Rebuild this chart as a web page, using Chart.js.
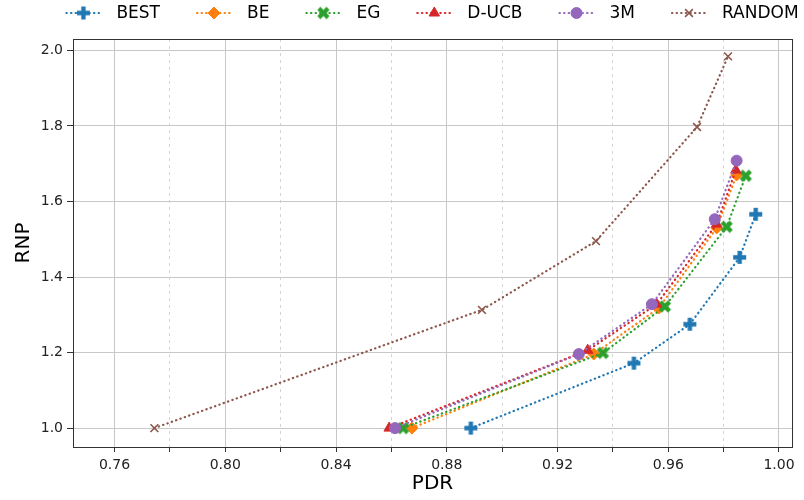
<!DOCTYPE html>
<html>
<head>
<meta charset="utf-8">
<script src="https://cdn.jsdelivr.net/npm/chart.js@4.4.0/dist/chart.umd.min.js"></script>
<style>
  html, body { margin: 0; padding: 0; background: #fff; }
</style>
</head>
<body>
<canvas id="chart" width="804" height="500"></canvas>
<script>
// PDR (x) / RNP (y) per strategy
const bestPDR = [0.8887, 0.9476, 0.9678, 0.9858, 0.9916];
const bestRNP = [1.000, 1.172, 1.275, 1.452, 1.566];
const bePDR = [0.8674, 0.9331, 0.9566, 0.9775, 0.9847];
const beRNP = [1.000, 1.196, 1.318, 1.530, 1.670];
const egPDR = [0.8642, 0.9364, 0.9588, 0.9811, 0.9880];
const egRNP = [1.000, 1.199, 1.322, 1.533, 1.668];
const ducbPDR = [0.8592, 0.9309, 0.9558, 0.9775, 0.9844];
const ducbRNP = [1.000, 1.206, 1.328, 1.540, 1.683];
const m3PDR = [0.8613, 0.9277, 0.9541, 0.9768, 0.9847];
const m3RNP = [1.000, 1.196, 1.328, 1.553, 1.708];
const randomPDR = [0.7744, 0.8927, 0.9339, 0.9704, 0.9816];
const randomRNP = [1.000, 1.313, 1.495, 1.797, 1.984];

const xTicks = [0.76, 0.78, 0.80, 0.82, 0.84, 0.86, 0.88, 0.90, 0.92, 0.94, 0.96, 0.98, 1.00];
const xMajorTicks = [0.76, 0.80, 0.84, 0.88, 0.92, 0.96, 1.00];
const yTicks = [1.0, 1.2, 1.4, 1.6, 1.8, 2.0];

const FONT = '"DejaVu Sans", sans-serif';
const isMajor = v => xMajorTicks.some(m => Math.abs(m - v) < 1e-9);
const zip = (xs, ys) => xs.map((x, i) => ({ x, y: ys[i] }));

// filled plus / filled x markers, drawn once onto small canvases
function crossMarker(color, len, rotated) {
  const size = Math.ceil(len * 2 + 4);
  const c = document.createElement('canvas');
  c.width = c.height = size;
  const g = c.getContext('2d');
  const a = len / 3;
  const pts = [[-a, -len], [a, -len], [a, -a], [len, -a], [len, a], [a, a],
               [a, len], [-a, len], [-a, a], [-len, a], [-len, -a], [-a, -a]];
  g.translate(size / 2, size / 2);
  if (rotated) g.rotate(Math.PI / 4);
  g.beginPath();
  pts.forEach(([px, py], i) => i ? g.lineTo(px, py) : g.moveTo(px, py));
  g.closePath();
  g.fillStyle = color;
  g.fill();
  return c;
}

function series(label, xs, ys, color, pointStyle, radius, extra) {
  return Object.assign({
    label,
    data: zip(xs, ys),
    showLine: true,
    borderColor: color,
    borderWidth: 2.2,
    borderDash: [0.4, 4.2],
    borderCapStyle: 'round',
    pointStyle,
    pointRadius: radius,
    pointHoverRadius: radius,
    pointBackgroundColor: color,
    pointBorderColor: color,
    pointBorderWidth: 1
  }, extra || {});
}

const datasets = [
  series('BEST', bestPDR, bestRNP, '#1f77b4', crossMarker('#1f77b4', 6.5, false), 6),
  series('BE', bePDR, beRNP, '#ff7f0e', 'rectRot', 6),
  series('EG', egPDR, egRNP, '#2ca02c', crossMarker('#2ca02c', 6.5, true), 6),
  series('D-UCB', ducbPDR, ducbRNP, '#d62728', 'triangle', 6),
  series('3M', m3PDR, m3RNP, '#9467bd', 'circle', 5.5),
  series('RANDOM', randomPDR, randomRNP, '#8c564b', 'crossRot', 5.5, { pointBorderWidth: 1.6 })
];
// later series sit on top
datasets.forEach((d, i) => { d.order = datasets.length - i; });

// legend row above the axes: dotted handle + marker + label
const lineLegend = {
  id: 'lineLegend',
  afterDraw(chart) {
    const ctx = chart.ctx;
    const HANDLE = 34, TEXT_PAD = 16, COL_GAP = 37, y = 13;
    ctx.save();
    ctx.font = '17px ' + FONT;
    const sets = chart.data.datasets;
    const widths = sets.map(ds => ctx.measureText(ds.label).width);
    const total = widths.reduce((s, w) => s + HANDLE + TEXT_PAD + w, 0) + COL_GAP * (sets.length - 1);
    const area = chart.chartArea;
    let x = (area.left + area.right) / 2 - total / 2;
    sets.forEach((ds, i) => {
      ctx.strokeStyle = ds.borderColor;
      ctx.lineWidth = ds.borderWidth;
      ctx.lineCap = ds.borderCapStyle;
      ctx.setLineDash(ds.borderDash);
      ctx.beginPath();
      ctx.moveTo(x, y);
      ctx.lineTo(x + HANDLE, y);
      ctx.stroke();
      ctx.setLineDash([]);
      ctx.lineCap = 'butt';
      ctx.fillStyle = ds.pointBackgroundColor;
      ctx.strokeStyle = ds.pointBorderColor;
      ctx.lineWidth = ds.pointBorderWidth;
      Chart.helpers.drawPoint(ctx, {
        pointStyle: ds.pointStyle, radius: ds.pointRadius,
        borderWidth: ds.pointBorderWidth, rotation: 0
      }, x + HANDLE / 2, y);
      ctx.fillStyle = '#000';
      ctx.textBaseline = 'middle';
      ctx.textAlign = 'left';
      ctx.fillText(ds.label, x + HANDLE + TEXT_PAD, y + 1);
      x += HANDLE + TEXT_PAD + widths[i] + COL_GAP;
    });
    ctx.restore();
  }
};

// box around the plotting area
const frame = {
  id: 'frame',
  afterDraw(chart) {
    const { left, top, right, bottom } = chart.chartArea;
    const ctx = chart.ctx;
    ctx.save();
    ctx.strokeStyle = '#333';
    ctx.lineWidth = 1;
    ctx.strokeRect(Math.round(left) + 0.5, Math.round(top) + 0.5,
                   Math.round(right - left), Math.round(bottom - top));
    ctx.restore();
  }
};

new Chart(document.getElementById('chart'), {
  type: 'scatter',
  data: { datasets },
  options: {
    responsive: false,
    animation: false,
    layout: { padding: { top: 39, right: 12, left: 0, bottom: 0 } },
    plugins: { legend: { display: false }, tooltip: { enabled: false } },
    scales: {
      x: {
        type: 'linear',
        min: 0.745,
        max: 1.0047,
        afterBuildTicks: axis => { axis.ticks = xTicks.map(v => ({ value: v })); },
        afterFit: scale => { scale.height = 53; },
        ticks: {
          autoSkip: false,
          maxRotation: 0,
          padding: 5,
          color: '#222',
          font: { family: FONT, size: 14 },
          callback: v => isMajor(v) ? v.toFixed(2) : ''
        },
        grid: {
          color: ctx => ctx.tick && !isMajor(ctx.tick.value) ? '#d4d4d4' : '#c8c8c8',
          lineWidth: 1,
          tickLength: 5,
          tickColor: '#333'
        },
        border: {
          color: '#333',
          dash: ctx => ctx.tick && !isMajor(ctx.tick.value) ? [3, 4] : []
        },
        title: {
          display: true,
          text: 'PDR',
          color: '#000',
          font: { family: FONT, size: 20 },
          padding: { top: 0, bottom: 4 }
        }
      },
      y: {
        type: 'linear',
        min: 0.95,
        max: 2.03,
        afterBuildTicks: axis => { axis.ticks = yTicks.map(v => ({ value: v })); },
        afterFit: scale => { scale.width = 73; },
        ticks: {
          padding: 4,
          color: '#222',
          font: { family: FONT, size: 14 },
          callback: v => v.toFixed(1)
        },
        grid: { color: '#c8c8c8', lineWidth: 1, tickLength: 6, tickColor: '#333' },
        border: { color: '#333' },
        title: {
          display: true,
          text: 'RNP',
          color: '#000',
          font: { family: FONT, size: 20 },
          padding: { top: 12, bottom: 0 }
        }
      }
    }
  },
  plugins: [lineLegend, frame]
});
</script>
</body>
</html>
